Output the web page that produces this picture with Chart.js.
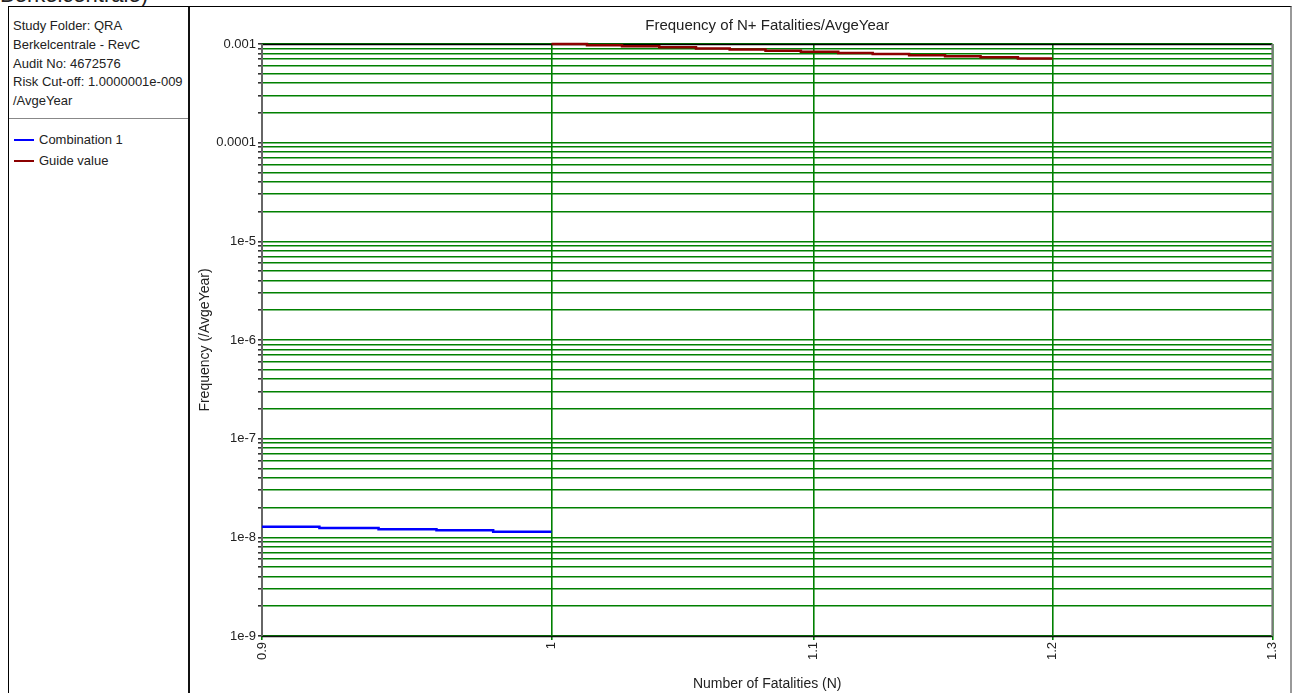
<!DOCTYPE html>
<html>
<head>
<meta charset="utf-8">
<title>Frequency of N+ Fatalities/AvgeYear</title>
<script src="https://cdn.jsdelivr.net/npm/chart.js@4.4.1/dist/chart.umd.min.js"></script>
<style>
  html, body { margin: 0; padding: 0; background: #fff; }
  body { width: 1299px; height: 693px; position: relative; overflow: hidden;
         font-family: "Liberation Sans", Arial, sans-serif; color: #222; }
  .cut-title { position: absolute; left: 0px; top: -16px; font-size: 22px; line-height: 22px; white-space: nowrap; }
  .frame { position: absolute; left: 8px; top: 6px; width: 1281px; height: 700px;
           border-top: 1px solid #000; border-left: 1px solid #000; border-right: 2px solid #999; }
  .info { position: absolute; left: 9px; top: 7px; width: 180px; height: 111px;
          border-bottom: 1px solid #888; font-size: 13px; line-height: 18.8px; }
  .info div { padding-left: 4px; }
  .info .first { margin-top: 10px; }
  .divider { position: absolute; left: 188px; top: 7px; width: 2px; height: 686px; background: #111; }
  .legend { position: absolute; left: 14px; top: 129px; font-size: 13px; }
  .legend-item { display: flex; align-items: center; height: 21px; }
  .legend-swatch { width: 20px; height: 2px; margin-right: 5px; }
  #chartWrap { position: absolute; left: 190px; top: 7px; width: 1100px; height: 686px; }
</style>
</head>
<body>
<div class="cut-title">Berkelcentrale)</div>
<div class="frame"></div>
<div class="info">
  <div class="first">Study Folder: QRA</div>
  <div>Berkelcentrale - RevC</div>
  <div>Audit No: 4672576</div>
  <div>Risk Cut-off: 1.0000001e-009</div>
  <div>/AvgeYear</div>
</div>
<div class="divider"></div>
<div class="legend" id="legend"></div>
<div id="chartWrap"><canvas id="fnChart" width="1100" height="686"></canvas></div>

<script>
// --- Data ---
const comboX = [0.9, 0.919, 0.939, 0.959, 0.979, 1.0];
const comboY = [1.28e-8, 1.24e-8, 1.21e-8, 1.18e-8, 1.14e-8, 1.14e-8];

const guideX = [1.0, 1.013, 1.026, 1.040, 1.054, 1.067, 1.081, 1.095,
                1.110, 1.124, 1.139, 1.154, 1.169, 1.185, 1.2];
const guideY = [1.0e-3, 9.74e-4, 9.49e-4, 9.25e-4, 9.01e-4, 8.78e-4, 8.55e-4, 8.33e-4,
                8.12e-4, 7.91e-4, 7.71e-4, 7.51e-4, 7.32e-4, 7.13e-4, 7.13e-4];

const xTicks      = [0.9, 1.0, 1.1, 1.2, 1.3];
const xTickLabels = ["0.9", "1", "1.1", "1.2", "1.3"];
const yTickValues = [1e-3, 1e-4, 1e-5, 1e-6, 1e-7, 1e-8, 1e-9];
const yTickLabels = ["0.001", "0.0001", "1e-5", "1e-6", "1e-7", "1e-8", "1e-9"];

const GRID_GREEN = "#008000";
const FONT = "'Liberation Sans', Arial, sans-serif";

// --- Helpers ---
const toPoints = (xs, ys) => xs.map((x, i) => ({ x, y: ys[i] }));
const isWholeSignificand = (v) => {
  const m = v / Math.pow(10, Math.floor(Math.log10(v) + 1e-9));
  return Math.abs(m - Math.round(m)) < 1e-6;
};
const yLabelFor = (v) => {
  const i = yTickValues.findIndex(t => Math.abs(Math.log10(v) - Math.log10(t)) < 1e-6);
  return i >= 0 ? yTickLabels[i] : "";
};

// frame round the plot area (drawn over the edge grid lines)
const plotFrame = {
  id: "plotFrame",
  beforeDatasetsDraw(chart) {
    const { ctx, chartArea: a } = chart;
    const line = (x1, y1, x2, y2, color, w) => {
      ctx.strokeStyle = color;
      ctx.lineWidth = w;
      ctx.beginPath();
      ctx.moveTo(x1, y1);
      ctx.lineTo(x2, y2);
      ctx.stroke();
    };
    ctx.save();
    line(a.left, a.top + 0.5, a.right, a.top + 0.5, "#000", 1.5);
    line(a.left, a.bottom + 0.5, a.right, a.bottom + 0.5, "#111", 1.5);
    line(a.right, a.top, a.right, a.bottom, "#777", 2);
    line(a.left, a.top, a.left, a.bottom, "#666", 2);
    ctx.restore();
  }
};

const chart = new Chart(document.getElementById("fnChart"), {
  type: "line",
  data: {
    datasets: [
      {
        label: "Combination 1",
        data: toPoints(comboX, comboY),
        borderColor: "#0000ff",
        borderWidth: 2.5,
        stepped: true,
        pointRadius: 0,
        clip: false,
      },
      {
        label: "Guide value",
        data: toPoints(guideX, guideY),
        borderColor: "#8b0000",
        borderWidth: 2.5,
        stepped: true,
        pointRadius: 0,
        clip: false,
      },
    ],
  },
  options: {
    responsive: false,
    animation: false,
    devicePixelRatio: 1,
    layout: { padding: { left: 0, right: 12, top: 0, bottom: 0 } },
    plugins: {
      legend: { display: false },
      tooltip: { enabled: false },
      title: {
        display: true,
        fullSize: false,
        text: "Frequency of N+ Fatalities/AvgeYear",
        color: "#222",
        font: { family: FONT, size: 15, weight: "normal" },
        padding: { top: 10, bottom: 9 },
      },
    },
    scales: {
      x: {
        type: "logarithmic",
        min: 0.9,
        max: 1.3,
        afterBuildTicks: (scale) => { scale.ticks = xTicks.map(v => ({ value: v })); },
        afterFit: (scale) => { scale.height = 57; },
        ticks: {
          autoSkip: false,
          minRotation: 90,
          maxRotation: 90,
          padding: 2,
          color: "#222",
          font: { family: FONT, size: 13 },
          callback: (v, i) => xTickLabels[i],
        },
        grid: {
          color: GRID_GREEN,
          tickColor: GRID_GREEN,
          tickLength: 4,
          lineWidth: 1.6,
        },
        border: { display: false },
        title: {
          display: true,
          text: "Number of Fatalities (N)",
          color: "#222",
          font: { family: FONT, size: 14 },
          padding: { top: 5, bottom: 0 },
        },
      },
      y: {
        type: "logarithmic",
        min: 1e-9,
        max: 1e-3,
        afterBuildTicks: (scale) => { scale.ticks = scale.ticks.filter(t => isWholeSignificand(t.value)); },
        afterFit: (scale) => { scale.width = 72; },
        ticks: {
          autoSkip: false,
          padding: 2,
          color: "#222",
          font: { family: FONT, size: 13 },
          callback: (v) => yLabelFor(v),
        },
        grid: {
          color: GRID_GREEN,
          tickColor: "#333",
          tickLength: 4,
          lineWidth: 1.6,
        },
        border: { display: false },
        title: {
          display: true,
          text: "Frequency (/AvgeYear)",
          color: "#222",
          font: { family: FONT, size: 14 },
          padding: { top: 7, bottom: 0 },
        },
      },
    },
  },
  plugins: [plotFrame],
});

// --- HTML legend built from the datasets ---
document.getElementById("legend").innerHTML = chart.data.datasets.map(d => `
  <div class="legend-item">
    <span class="legend-swatch" style="background:${d.borderColor}"></span>
    <span>${d.label}</span>
  </div>
`).join("");
</script>
</body>
</html>
